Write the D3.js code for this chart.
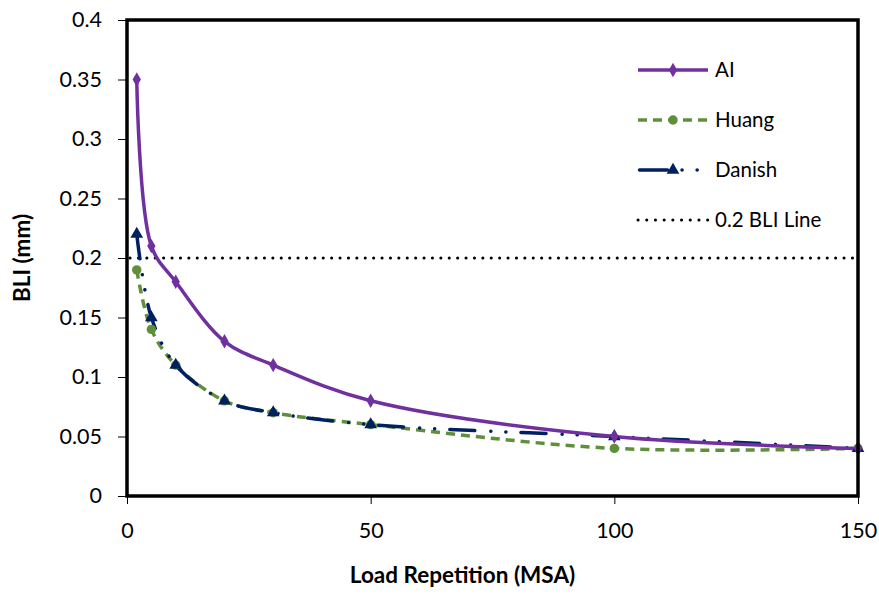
<!DOCTYPE html>
<html><head><meta charset="utf-8">
<script src="https://cdn.jsdelivr.net/npm/d3@7"></script>
<style>body{margin:0;background:#fff}svg{display:block}text{font-family:Lato,"Open Sans",sans-serif}</style>
</head><body><svg id="c" width="879" height="594"></svg>
<script>
const xValues = [2, 5, 10, 20, 30, 50, 100, 150];
const aiValues = [0.35, 0.21, 0.18, 0.13, 0.11, 0.08, 0.05, 0.04];
const huangValues = [0.19, 0.14, 0.11, 0.08, 0.07, 0.06, 0.04, 0.04];
const danishValues = [0.22, 0.15, 0.11, 0.08, 0.07, 0.06, 0.05, 0.04];
const bliLine = 0.2;
const xTicks = [0, 50, 100, 150];
const yTicks = [0, 0.05, 0.1, 0.15, 0.2, 0.25, 0.3, 0.35, 0.4];
const seriesNames = ["AI", "Huang", "Danish", "0.2 BLI Line"];

const svg = d3.select("#c");
const L = 127, R = 858, T = 20, B = 496;
const x = d3.scaleLinear().domain([0, 150]).range([L, R]);
const y = d3.scaleLinear().domain([0, 0.4]).range([B, T]);

// axes
const ya = svg.append("g").attr("transform", `translate(${L},0)`)
  .call(d3.axisLeft(y).tickValues(yTicks).tickSize(9).tickPadding(16).tickFormat(d => String(+d.toFixed(2))));
const xa = svg.append("g").attr("transform", `translate(0,${B})`)
  .call(d3.axisBottom(x).tickValues(xTicks).tickSize(8).tickPadding(19).tickFormat(d3.format("d")));
[ya, xa].forEach(a => {
  a.select(".domain").remove();
  a.selectAll("line").attr("stroke", "#000").attr("stroke-width", 1);
  a.selectAll("text").attr("fill", "#000").style("font-size", "21.5px").style("font-family", "Lato, sans-serif");
});

const line = d3.line().x(d => x(d[0])).y(d => y(d[1])).curve(d3.curveCatmullRom.alpha(0.5));
const mk = vals => xValues.map((v, i) => [v, vals[i]]);

const purple = "#7030A0", green = "#5F8F3A", navy = "#002060";
const danishDash = "25,16,0.1,15,0.1,15";

// BLI line
svg.append("line").attr("x1", L + 3).attr("x2", R).attr("y1", y(bliLine)).attr("y2", y(bliLine))
  .attr("stroke", "#000").attr("stroke-width", 3).attr("stroke-linecap", "round").attr("stroke-dasharray", "0.1,8.3");

// Huang
svg.append("path").attr("d", line(mk(huangValues))).attr("fill", "none").attr("stroke", green)
  .attr("stroke-width", 3.5).attr("stroke-dasharray", "9,6");
// Danish
svg.append("path").attr("d", line(mk(danishValues))).attr("fill", "none").attr("stroke", navy)
  .attr("stroke-width", 3.5).attr("stroke-linecap", "round").attr("stroke-dasharray", danishDash);
// AI
svg.append("path").attr("d", line(mk(aiValues))).attr("fill", "none").attr("stroke", purple)
  .attr("stroke-width", 3.5);

const diamond = d3.symbol().type(d3.symbolDiamond).size(60);
const circle = d3.symbol().type(d3.symbolCircle).size(70);
const tri = d3.symbol().type(d3.symbolTriangle).size(70);

function markers(vals, sym, col) {
  svg.append("g").selectAll("path").data(mk(vals)).join("path")
    .attr("d", sym).attr("fill", col)
    .attr("transform", d => `translate(${x(d[0])},${y(d[1])})`);
}
markers(huangValues, circle, green);
markers(danishValues, tri, navy);
markers(aiValues, diamond, purple);

// frame
svg.append("rect").attr("x", L).attr("y", T).attr("width", R - L).attr("height", B - T)
  .attr("fill", "none").attr("stroke", "#000").attr("stroke-width", 3.5);

// legend
const lg = svg.append("g");
const lx1 = 638, lx2 = 708, lmx = 673, ltx = 715;
const rows = [70, 120, 170, 220];
lg.append("line").attr("x1", lx1).attr("x2", lx2).attr("y1", rows[0]).attr("y2", rows[0]).attr("stroke", purple).attr("stroke-width", 3.5);
lg.append("path").attr("d", diamond).attr("fill", purple).attr("transform", `translate(${lmx},${rows[0]})`);
lg.append("line").attr("x1", lx1).attr("x2", lx2).attr("y1", rows[1]).attr("y2", rows[1]).attr("stroke", green).attr("stroke-width", 3.5).attr("stroke-dasharray", "9,6");
lg.append("path").attr("d", circle).attr("fill", green).attr("transform", `translate(${lmx},${rows[1]})`);
lg.append("line").attr("x1", lx1 + 1.5).attr("x2", lx2).attr("y1", rows[2]).attr("y2", rows[2]).attr("stroke", navy).attr("stroke-width", 3.5).attr("stroke-linecap", "round").attr("stroke-dasharray", "28,14.5,0.1,15,0.1,100");
lg.append("path").attr("d", tri).attr("fill", navy).attr("transform", `translate(${lmx},${rows[2]})`);
lg.append("line").attr("x1", lx1).attr("x2", lx2).attr("y1", rows[3]).attr("y2", rows[3]).attr("stroke", "#000").attr("stroke-width", 3).attr("stroke-linecap", "round").attr("stroke-dasharray", "0.1,8.6");
lg.selectAll("text.l").data(seriesNames).join("text").attr("class", "l")
  .attr("x", ltx).attr("y", (d, i) => rows[i]).attr("dy", "0.35em").style("font-size", "20.5px").attr("fill", "#000").text(d => d);

// axis titles
svg.append("text").attr("x", (L + R) / 2 - 30).attr("y", 583).attr("text-anchor", "middle")
  .style("font-size", "22.5px").style("font-weight", "bold").text("Load Repetition (MSA)");
svg.append("text").attr("transform", `translate(30,${(T + B) / 2}) rotate(-90)`).attr("text-anchor", "middle")
  .style("font-size", "22.5px").style("font-weight", "bold").text("BLI (mm)");
</script></body></html>
